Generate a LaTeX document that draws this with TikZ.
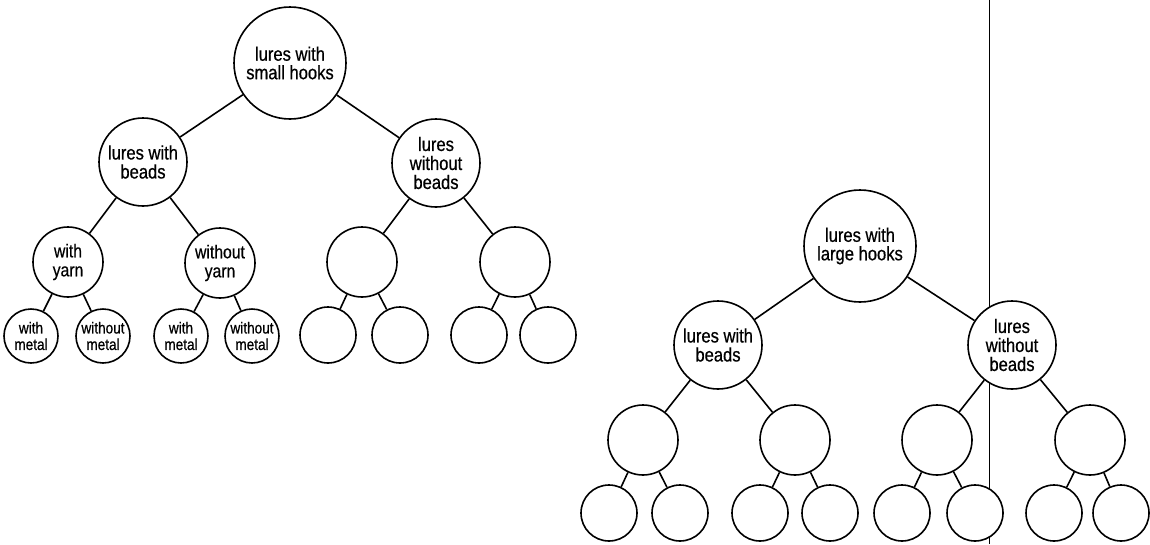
\documentclass[tikz,border=0pt]{standalone}
\usepackage{fontspec}
\setmainfont{Liberation Sans}[FakeStretch=0.85,FakeBold=0.6]
\begin{document}
\begin{tikzpicture}[x=1pt,y=-1pt,
  nd/.style={circle,draw,line width=1.6pt,fill=white,inner sep=0pt,align=center},
  lvla/.style={nd,minimum size=112pt,font=\fontsize{19.5}{18.5}\selectfont},
  lvlb/.style={nd,minimum size=88pt,font=\fontsize{19.5}{19}\selectfont},
  lvlc/.style={nd,minimum size=70pt,font=\fontsize{18.5}{19}\selectfont},
  lvld/.style={nd,minimum size=54pt,font=\fontsize{16}{16.5}\selectfont},
  lvle/.style={nd,minimum size=56pt},
  edge/.style={line width=1.6pt},
  rule/.style={line width=1pt}]
\useasboundingbox (0,0) rectangle (1150,544);
% vertical rule behind the circles
\coordinate (vtop) at (989,0);
\coordinate (vbot) at (989,544);
\draw[rule] (vtop) -- (vbot);
% left tree
\node[lvla] (r1) at (290,63) {lures with\\small hooks};
\node[lvlb] (a) at (143,162) {lures with\\beads};
\node[lvlb] (b) at (436,163) {lures\\without\\beads};
\node[lvlc] (a1) at (68,262) {with\\yarn};
\node[lvlc] (a2) at (220,263) {without\\yarn};
\node[lvlc] (b1) at (362,262) {};
\node[lvlc] (b2) at (515,262) {};
\node[lvld] (a11) at (31,336) {with\\metal};
\node[lvld] (a12) at (103,336) {without\\metal};
\node[lvld] (a21) at (181,336) {with\\metal};
\node[lvld] (a22) at (252,336) {without\\metal};
\node[lvle] (b11) at (328,335) {};
\node[lvle] (b12) at (400,335) {};
\node[lvle] (b21) at (479,335) {};
\node[lvle] (b22) at (548,335) {};
\draw[edge] (r1) -- (a);
\draw[edge] (r1) -- (b);
\draw[edge] (a) -- (a1);
\draw[edge] (a) -- (a2);
\draw[edge] (b) -- (b1);
\draw[edge] (b) -- (b2);
\draw[edge] (a1) -- (a11);
\draw[edge] (a1) -- (a12);
\draw[edge] (a2) -- (a21);
\draw[edge] (a2) -- (a22);
\draw[edge] (b1) -- (b11);
\draw[edge] (b1) -- (b12);
\draw[edge] (b2) -- (b21);
\draw[edge] (b2) -- (b22);
% right tree
\node[lvla] (r2) at (860,246) {lures with\\large hooks};
\node[lvlb] (c) at (718,345) {lures with\\beads};
\node[lvlb] (d) at (1012,345) {lures\\without\\beads};
\node[lvlc] (c1) at (643,440) {};
\node[lvlc] (c2) at (795,440) {};
\node[lvlc] (d1) at (937,440) {};
\node[lvlc] (d2) at (1090,440) {};
\node[lvle] (c11) at (609,513) {};
\node[lvle] (c12) at (680,513) {};
\node[lvle] (c21) at (760,513) {};
\node[lvle] (c22) at (830,513) {};
\node[lvle] (d11) at (902,513) {};
\node[lvle] (d12) at (975,513) {};
\node[lvle] (d21) at (1054,513) {};
\node[lvle] (d22) at (1121,513) {};
\draw[edge] (r2) -- (c);
\draw[edge] (r2) -- (d);
\draw[edge] (c) -- (c1);
\draw[edge] (c) -- (c2);
\draw[edge] (d) -- (d1);
\draw[edge] (d) -- (d2);
\draw[edge] (c1) -- (c11);
\draw[edge] (c1) -- (c12);
\draw[edge] (c2) -- (c21);
\draw[edge] (c2) -- (c22);
\draw[edge] (d1) -- (d11);
\draw[edge] (d1) -- (d12);
\draw[edge] (d2) -- (d21);
\draw[edge] (d2) -- (d22);
\end{tikzpicture}
\end{document}
